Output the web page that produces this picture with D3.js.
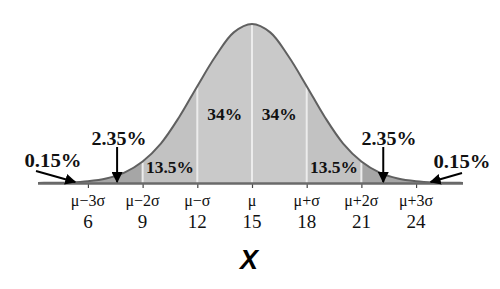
<!DOCTYPE html>
<html>
<head>
<meta charset="utf-8">
<script src="https://cdnjs.cloudflare.com/ajax/libs/d3/7.8.5/d3.min.js"></script>
<style>
    body { margin: 0; background: #fff; }
    svg { display: block; }
</style>
</head>
<body>
<svg width="500" height="289"></svg>
<script>
// density at each whole x (mean 15, sd 3)
var xs = [3, 4, 5, 6, 7, 8, 9, 10, 11, 12, 13, 14, 15, 16, 17, 18, 19, 20, 21, 22, 23, 24, 25, 26, 27];
var density = [0.0000, 0.0002, 0.0005, 0.0015, 0.0038, 0.0087, 0.018, 0.033, 0.055, 0.081, 0.106, 0.126, 0.133,
               0.126, 0.106, 0.081, 0.055, 0.033, 0.018, 0.0087, 0.0038, 0.0015, 0.0005, 0.0002, 0.0000];

var tickValues = [6, 9, 12, 15, 18, 21, 24];
var tickSymbols = ["\u03bc\u22123\u03c3", "\u03bc\u22122\u03c3", "\u03bc\u2212\u03c3", "\u03bc", "\u03bc+\u03c3", "\u03bc+2\u03c3", "\u03bc+3\u03c3"];
var dividers = [9, 12, 15, 18, 21];

var bandCenters = [10.5, 13.5, 16.5, 19.5];
var bandLabels = ["13.5%", "34%", "34%", "13.5%"];

var tailTargets = [5.3, 7.6, 22.2, 24.8];
var tailLabels = ["0.15%", "2.35%", "2.35%", "0.15%"];

var serif = "'Liberation Serif', 'Times New Roman', serif";

var svg = d3.select("svg");

var x = d3.scaleLinear().domain([3, 27]).range([252 - 12 * 18.23, 252 + 12 * 18.23]);
var y = d3.scaleLinear().domain([0, 0.133]).range([183, 24]);

var pts = xs.map(function (d, i) { return { x: d, y: density[i] }; });

var area = d3.area()
    .x(function (d) { return x(d.x); })
    .y0(y(0))
    .y1(function (d) { return y(d.y); })
    .curve(d3.curveCatmullRom);

var line = d3.line()
    .x(function (d) { return x(d.x); })
    .y(function (d) { return y(d.y); })
    .curve(d3.curveCatmullRom);

var defs = svg.append("defs");
defs.append("clipPath").attr("id", "clip-mid")
    .append("rect").attr("x", x(9)).attr("y", 0).attr("width", x(21) - x(9)).attr("height", 289);
defs.append("clipPath").attr("id", "clip-core")
    .append("rect").attr("x", x(12)).attr("y", 0).attr("width", x(18) - x(12)).attr("height", 289);
defs.append("clipPath").attr("id", "clip-all")
    .append("rect").attr("x", 38).attr("y", 0).attr("width", 463 - 38).attr("height", 289);

defs.append("marker")
    .attr("id", "head")
    .attr("viewBox", "0 0 10 10")
    .attr("refX", 9).attr("refY", 5)
    .attr("markerWidth", 5.5).attr("markerHeight", 5.5)
    .attr("markerUnits", "strokeWidth")
    .attr("orient", "auto")
    .append("path").attr("d", "M0,0L10,5L0,10z").attr("fill", "#000");

var g = svg.append("g").attr("clip-path", "url(#clip-all)");

g.append("path").datum(pts).attr("d", area).attr("fill", "#a6a6a6");
g.append("path").datum(pts).attr("d", area).attr("fill", "#c2c2c2").attr("clip-path", "url(#clip-mid)");
g.append("path").datum(pts).attr("d", area).attr("fill", "#c9c9c9").attr("clip-path", "url(#clip-core)");

// white lines at the sigma boundaries
g.selectAll(".div")
    .data(dividers)
    .enter().append("line")
    .attr("x1", function (d) { return x(d); })
    .attr("x2", function (d) { return x(d); })
    .attr("y1", y(0))
    .attr("y2", function (d) { return y(density[xs.indexOf(d)]) + 1; })
    .attr("stroke", "#ececec")
    .attr("stroke-width", 2);

g.append("path").datum(pts).attr("d", line)
    .attr("fill", "none").attr("stroke", "#606060").attr("stroke-width", 2);

// axis
var axis = d3.axisBottom(x).tickValues(tickValues).tickSize(5).tickFormat("");
var ax = svg.append("g").attr("transform", "translate(0," + y(0) + ")").call(axis);
ax.select(".domain").remove();
ax.selectAll(".tick line").attr("stroke", "#444").attr("stroke-width", 1.2);
svg.append("line")
    .attr("x1", 38).attr("x2", 463)
    .attr("y1", y(0) + 0.5).attr("y2", y(0) + 0.5)
    .attr("stroke", "#6a6a6a").attr("stroke-width", 2.5);

svg.selectAll(".tick-sym")
    .data(tickValues)
    .enter().append("text")
    .attr("class", "tick-sym")
    .attr("x", function (d) { return x(d); })
    .attr("y", 206)
    .attr("text-anchor", "middle")
    .style("font-family", serif)
    .style("font-size", "16px")
    .style("fill", "#111")
    .text(function (d, i) { return tickSymbols[i]; });

svg.selectAll(".tick-num")
    .data(tickValues)
    .enter().append("text")
    .attr("class", "tick-num")
    .attr("x", function (d) { return x(d); })
    .attr("y", 228)
    .attr("text-anchor", "middle")
    .style("font-family", serif)
    .style("font-size", "19px")
    .style("fill", "#111")
    .text(function (d) { return d; });

svg.append("text")
    .attr("x", 249).attr("y", 269)
    .attr("text-anchor", "middle")
    .style("font-family", "Arial, 'Liberation Sans', sans-serif")
    .style("font-weight", "bold")
    .style("font-style", "italic")
    .style("font-size", "27px")
    .text("X");

// band percentages
svg.selectAll(".band")
    .data(bandCenters)
    .enter().append("text")
    .attr("class", "band")
    .attr("x", function (d) { return x(d); })
    .attr("y", function (d) { return Math.abs(d - 15) < 2 ? 120 : 173; })
    .attr("text-anchor", "middle")
    .attr("textLength", function (d) { return Math.abs(d - 15) < 2 ? 35 : 48; })
    .attr("lengthAdjust", "spacingAndGlyphs")
    .style("font-family", serif)
    .style("font-weight", "bold")
    .style("font-size", "17px")
    .style("fill", "#111")
    .text(function (d, i) { return bandLabels[i]; });

// tail call-outs
var labelPos = [[53, 167], [119, 145], [389, 145], [462, 168]];
var arrowFrom = [[36, 171], null, null, [462, 173]];

svg.selectAll(".tail")
    .data(tailTargets)
    .enter().append("text")
    .attr("class", "tail")
    .attr("x", function (d, i) { return labelPos[i][0]; })
    .attr("y", function (d, i) { return labelPos[i][1]; })
    .attr("text-anchor", "middle")
    .attr("textLength", function (d, i) { return i === 0 || i === 3 ? 57 : 55; })
    .attr("lengthAdjust", "spacingAndGlyphs")
    .style("font-family", serif)
    .style("font-weight", "bold")
    .style("font-size", "18px")
    .style("fill", "#111")
    .text(function (d, i) { return tailLabels[i]; });

svg.selectAll(".arrow")
    .data(tailTargets)
    .enter().append("line")
    .attr("class", "arrow")
    .attr("x1", function (d, i) { return arrowFrom[i] ? arrowFrom[i][0] : x(d); })
    .attr("y1", function (d, i) { return arrowFrom[i] ? arrowFrom[i][1] : 147; })
    .attr("x2", function (d) { return x(d); })
    .attr("y2", y(0) - 1)
    .attr("stroke", "#000")
    .attr("stroke-width", 2)
    .attr("marker-end", "url(#head)");
</script>
</body>
</html>
